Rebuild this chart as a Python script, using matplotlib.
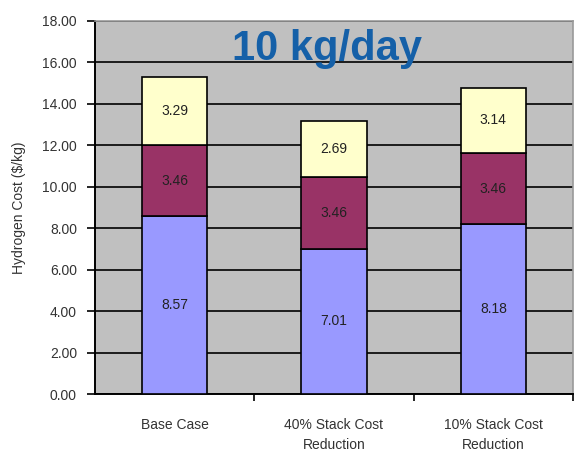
import matplotlib
matplotlib.use("Agg")
import matplotlib.pyplot as plt
import numpy as np

categories = ["Base Case", "40% Stack Cost\nReduction", "10% Stack Cost\nReduction"]
bottom_vals = [8.57, 7.01, 8.18]
middle_vals = [3.46, 3.46, 3.46]
top_vals = [3.29, 2.69, 3.14]
y_ticks = [0, 2, 4, 6, 8, 10, 12, 14, 16, 18]

plt.rcParams["font.family"] = ["Liberation Sans", "DejaVu Sans"]

fig = plt.figure(figsize=(5.74, 4.59), dpi=100)
ax = fig.add_axes([95 / 574, 65 / 459, 478 / 574, 373 / 459])
ax.set_facecolor("#C0C0C0")

x = np.arange(len(categories))
width = 0.41
colors = ["#9999FF", "#993366", "#FFFFCC"]
series = [bottom_vals, middle_vals, top_vals]
base = np.zeros(len(categories))
for vals, col in zip(series, colors):
    vals = np.array(vals)
    ax.bar(x, vals, width, bottom=base, color=col, edgecolor="black",
           linewidth=1.2, zorder=3)
    for xi, b, v in zip(x, base, vals):
        ax.text(xi, b + v / 2, f"{v:.2f}", ha="center", va="center",
                fontsize=10, color="#222222", zorder=4)
    base = base + vals

ax.set_xlim(-0.5, 2.5)
ax.set_ylim(0, 18)
ax.set_yticks(y_ticks)
ax.set_yticklabels([f"{t:.2f}" for t in y_ticks], fontsize=10, color="#333333")
ax.yaxis.grid(True, color="black", linewidth=1.2, zorder=0)
ax.set_axisbelow(True)

ax.set_xticks([0.5, 1.5, 2.5])
ax.set_xticklabels([])
ax.set_xticks(x, minor=True)
ax.set_xticklabels(categories, minor=True, fontsize=10, color="#333333",
                   linespacing=1.6)
ax.tick_params(axis="x", which="minor", length=0, pad=17)
ax.tick_params(axis="x", which="major", direction="out", length=5, width=1.2)
ax.tick_params(axis="y", direction="out", length=6, width=1.2, pad=7)

ax.set_ylabel("Hydrogen Cost ($/kg)", fontsize=10, color="#333333", labelpad=12)

for side in ["left", "bottom"]:
    ax.spines[side].set_color("black")
    ax.spines[side].set_linewidth(1.4)
for side in ["top", "right"]:
    ax.spines[side].set_color("#999999")
    ax.spines[side].set_linewidth(1.2)

ax.text(0.286, 0.925, "10 kg/day", transform=ax.transAxes, fontsize=30,
        fontweight="bold", color="#1560A8", ha="left", va="center", zorder=5)

fig.savefig("out.png", dpi=100)
